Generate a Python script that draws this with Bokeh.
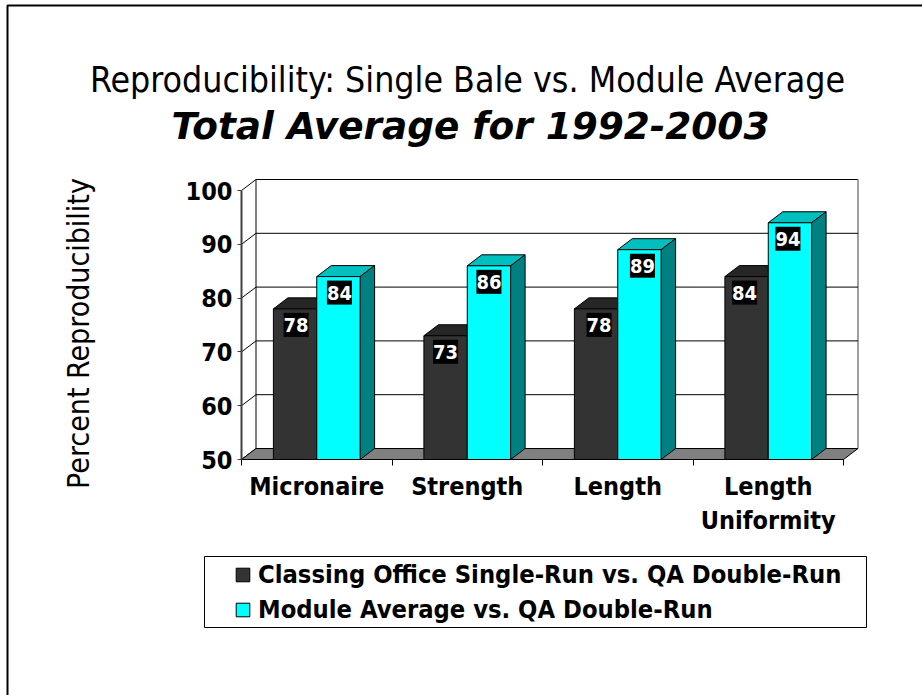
import numpy as np
from bokeh.plotting import figure
from bokeh.models import (Range1d, FixedTicker, LinearAxis, Label, BoxAnnotation, Legend, LegendItem, ColumnDataSource)
from bokeh.core.properties import value
from bokeh.embed import file_html
from bokeh.resources import INLINE

categories = ["Micronaire", "Strength", "Length", "Length\nUniformity"]
single_run = [78, 73, 78, 84]
module_avg = [84, 86, 89, 94]
y_ticks = [50, 60, 70, 80, 90, 100]
series_names = ["Classing Office Single-Run vs. QA Double-Run", "Module Average vs. QA Double-Run"]

W, H = 922, 695
FONT = "DejaVu Sans Condensed"
PX_X = 150.5   # pixels per category
PX_Y = 5.38    # pixels per percent
X0, Y0 = 241, 459  # pixel position of the front-left-bottom corner
DX = 14.5 / PX_X
DY = 11 / PX_Y
BW = 0.288
BASE = 50
n = len(categories)

p = figure(width=W, height=H, output_backend="svg", toolbar_location=None,
           x_range=Range1d(-X0 / PX_X, (W - X0) / PX_X),
           y_range=Range1d(BASE - (H - Y0) / PX_Y, BASE + Y0 / PX_Y),
           x_axis_type=None, y_axis_type=None,
           min_border_left=0, min_border_right=0, min_border_top=0, min_border_bottom=0,
           outline_line_color=None, background_fill_color="white")
p.grid.visible = False

# walls
p.line([DX, DX, n + DX], [BASE + DY, 100 + DY, 100 + DY], line_color="black", line_width=1)
p.line([n + DX, n + DX], [BASE + DY, 100 + DY], line_color="#808080", line_width=1.5)
gy = [t for t in y_ticks if t > BASE and t < 100]
p.segment([DX] * len(gy), [t + DY for t in gy], [n + DX] * len(gy), [t + DY for t in gy], line_color="black", line_width=1)
p.segment([0] * len(y_ticks), y_ticks, [DX] * len(y_ticks), [t + DY for t in y_ticks], line_color="black", line_width=1)
# floor
p.patch([0, DX, n + DX, n], [BASE, BASE + DY, BASE + DY, BASE], fill_color="#808080", line_color="black", line_width=1)


def bars(vals, xc, front, top, side):
    l = xc - BW / 2
    r = xc + BW / 2
    v = np.array(vals, float)
    p.patches([[a, a + DX, b + DX, b] for a, b in zip(l, r)],
              [[t, t + DY, t + DY, t] for t in v], fill_color=top, line_color="black", line_width=1)
    p.patches([[b, b + DX, b + DX, b] for b in r],
              [[BASE, BASE + DY, t + DY, t] for t in v], fill_color=side, line_color="black", line_width=1)
    return p.quad(left=l, right=r, bottom=BASE, top=v, fill_color=front, line_color="black", line_width=1)


centers = np.arange(n) + 0.5
x1 = centers - BW / 2
x2 = centers + BW / 2
r1 = bars(single_run, x1, "#333333", "#262626", "#1a1a1a")
r2 = bars(module_avg, x2, "#00FFFF", "#00BFBF", "#008080")

# data labels
nudge = [1, 0, 3, -2]
for xs, vals in ((x1, single_run), (x2, module_avg)):
    src = ColumnDataSource(dict(x=xs, y=vals, t=[str(v) for v in vals], dx=nudge))
    p.text("x", "y", text="t", source=src, x_offset="dx", y_offset=16, text_color="white",
           text_font=value(FONT), text_font_style="bold", text_font_size="20px",
           text_align="center", text_baseline="middle", background_fill_color="black", padding=(0, 5))

# axes
ya = LinearAxis(ticker=FixedTicker(ticks=y_ticks), bounds=(BASE, 100), fixed_location=0,
                axis_line_color="#404040", axis_line_width=2,
                major_tick_line_color="#404040", major_tick_out=4, major_tick_in=0,
                major_label_standoff=5,
                major_label_text_font=FONT, major_label_text_font_style="bold",
                major_label_text_font_size="25px", major_label_text_color="black")
p.add_layout(ya, "left")

xa = LinearAxis(ticker=FixedTicker(ticks=list(centers), minor_ticks=list(range(n + 1))), bounds=(0, n), fixed_location=BASE,
                axis_line_color="black", axis_line_width=1,
                major_tick_out=0, major_tick_in=0, minor_tick_out=6, minor_tick_in=0,
                minor_tick_line_color="black", major_label_standoff=6,
                major_label_overrides={float(c): s for c, s in zip(centers, categories)},
                major_label_text_font=FONT, major_label_text_font_style="bold",
                major_label_text_font_size="25px", major_label_text_color="black")
p.add_layout(xa, "below")

# titles
p.add_layout(Label(x=467, y=H - 79, x_units="screen", y_units="screen", text="Reproducibility: Single Bale vs. Module Average",
                   text_font=FONT, text_font_style="normal", text_font_size="35.4px", text_color="black",
                   text_align="center", text_baseline="middle"))
p.add_layout(Label(x=470, y=H - 125, x_units="screen", y_units="screen", text="Total Average for 1992-2003",
                   text_font="DejaVu Sans", text_font_style="bold italic", text_font_size="37.4px", text_color="black",
                   text_align="center", text_baseline="middle"))
p.add_layout(Label(x=78, y=H - 333, x_units="screen", y_units="screen", text="Percent Reproducibility", angle=90, angle_units="deg",
                   text_font=FONT, text_font_style="normal", text_font_size="30px", text_color="black",
                   text_align="center", text_baseline="middle"))

# page border and legend box
p.add_layout(BoxAnnotation(left=7, right=960, top=5, bottom=760, left_units="canvas", right_units="canvas",
                           top_units="canvas", bottom_units="canvas", fill_color=None, line_color="black", line_alpha=1, line_width=2))
p.add_layout(BoxAnnotation(left=204, right=866, top=556, bottom=627, left_units="canvas", right_units="canvas",
                           top_units="canvas", bottom_units="canvas", fill_color="white", fill_alpha=1,
                           line_color="black", line_alpha=1, line_width=1))

legend = Legend(items=[LegendItem(label=series_names[0], renderers=[r1]), LegendItem(label=series_names[1], renderers=[r2])],
                location=(234, H - 624), border_line_color=None, background_fill_alpha=0, padding=0, margin=0, spacing=6,
                glyph_width=17, glyph_height=17, label_standoff=7, label_text_font=FONT, label_text_font_style="bold",
                label_text_font_size="25.3px", label_text_color="black")
p.add_layout(legend, "center")

open("out.html", "w").write(file_html(p, INLINE))
